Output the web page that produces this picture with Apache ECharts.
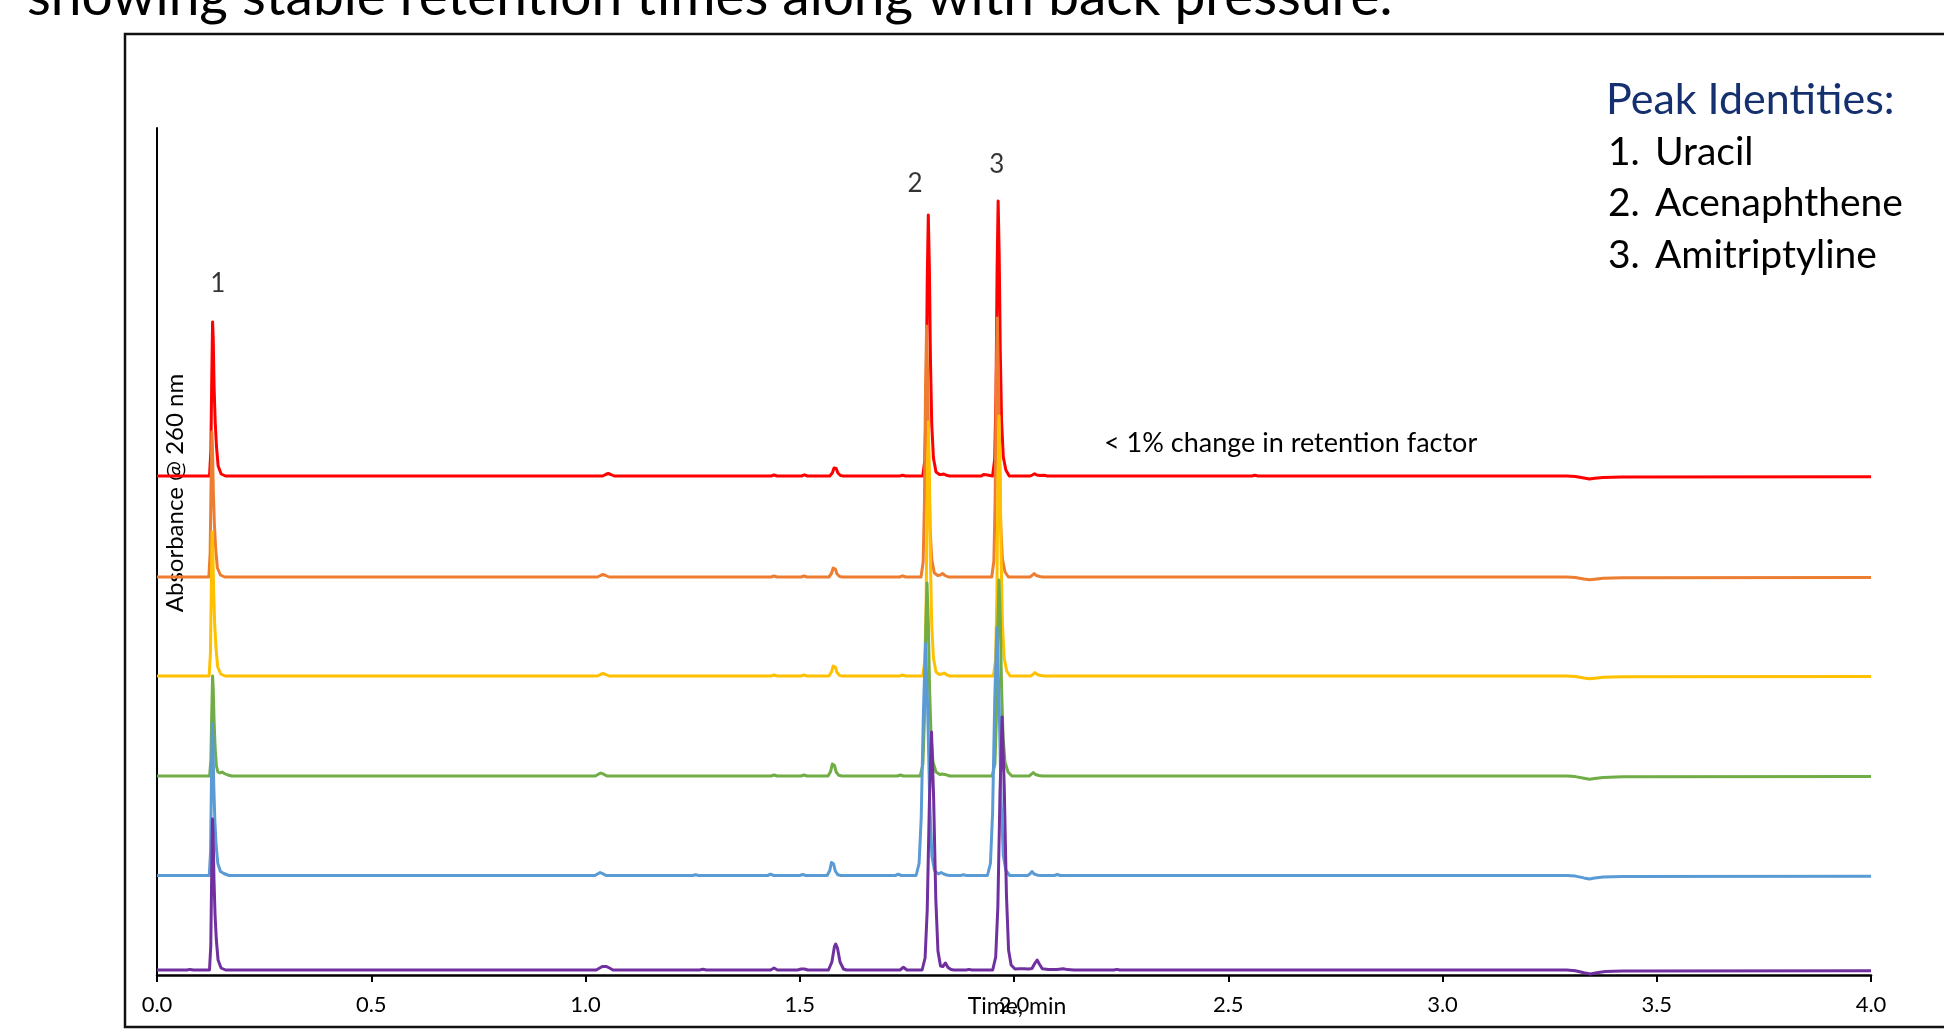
<!DOCTYPE html>
<html>
<head>
<meta charset="utf-8">
<title>Chromatogram overlay</title>
<script src="https://cdn.jsdelivr.net/npm/echarts@6/dist/echarts.min.js"></script>
<style>
  html, body { margin: 0; padding: 0; background: #ffffff; }
  #chartDiv { width: 1944px; height: 1036px; }
</style>
</head>
<body>
<div id="chartDiv"></div>
<script>
// x axis tick labels (time, min)
const xTickLabels = ['0.0', '0.5', '1.0', '1.5', '2.0', '2.5', '3.0', '3.5', '4.0'];

// trace names / colours, top to bottom
const traceNames = ['Run 1', 'Run 2', 'Run 3', 'Run 4', 'Run 5', 'Run 6'];
const traceColors = ['#ff0000', '#ed7d31', '#ffc000', '#70ad47', '#5b9bd5', '#7030a0'];
// vertical offset of each trace's baseline (absorbance units)
const traceOffsets = [499, 398, 299, 199, 99.5, 5];

// [time, absorbance above baseline]
const redTrace = [
  [0, 0], [0.1225, 0], [0.1257, 25], [0.1277, 95], [0.1297, 154], [0.1312, 138], [0.1332, 90], [0.1357, 55], [0.1387, 30], [0.1427, 10], [0.1497, 2], [0.16, 0],
  [1.040, 0], [1.047, 1.5], [1.053, 2.5], [1.059, 1.5], [1.067, 0],
  [1.433, 0], [1.440, 1], [1.447, 0],
  [1.504, 0], [1.511, 1.2], [1.518, 0],
  [1.570, 0], [1.576, 3], [1.580, 8], [1.582, 9], [1.585, 7.5], [1.589, 3], [1.595, 0.5], [1.602, 0],
  [1.733, 0], [1.740, 0.8], [1.747, 0],
  [1.787, 0], [1.792, 16], [1.795, 78], [1.7975, 196], [1.800, 261], [1.8025, 209], [1.805, 117], [1.808, 52], [1.812, 18], [1.818, 4], [1.826, 1.5], [1.831, 1.5], [1.836, 2], [1.842, 0.8], [1.850, 0],
  [1.924, 0], [1.929, 1.5], [1.933, 1.8], [1.938, 1], [1.944, 0.5],
  [1.950, 0], [1.955, 17], [1.958, 83], [1.9605, 206], [1.963, 275], [1.9655, 220], [1.968, 124], [1.971, 55], [1.975, 19], [1.981, 6], [1.989, 0],
  [2.038, 0], [2.043, 1], [2.048, 2.2], [2.053, 1], [2.060, 0.5], [2.070, 0.8], [2.078, 0],
  [2.555, 0], [2.562, 0.8], [2.569, 0],
  [3.290, 0], [3.310, -0.5], [3.330, -2], [3.343, -3], [3.355, -2.2], [3.375, -1.4], [3.420, -1], [4.0, -0.8]
];
const orangeTrace = [
  [0, 0], [0.121, 0], [0.124, 24], [0.126, 89], [0.128, 145], [0.1295, 130], [0.1315, 85], [0.134, 52], [0.137, 28], [0.141, 9], [0.148, 2], [0.158, 0],
  [1.028, 0], [1.035, 1.5], [1.041, 2.5], [1.047, 1.5], [1.055, 0],
  [1.433, 0], [1.440, 1], [1.447, 0],
  [1.503, 0], [1.510, 1], [1.517, 0],
  [1.568, 0], [1.574, 3.5], [1.578, 9], [1.580, 10], [1.583, 8], [1.587, 3], [1.593, 0.5], [1.600, 0],
  [1.733, 0], [1.740, 1.2], [1.747, 0],
  [1.783, 0], [1.788, 15], [1.791, 75], [1.7935, 188], [1.796, 251], [1.7985, 201], [1.801, 113], [1.804, 50], [1.808, 18], [1.814, 4], [1.822, 1.5], [1.828, 2], [1.833, 3.5], [1.839, 1.5], [1.847, 0],
  [1.948, 0], [1.953, 16], [1.956, 78], [1.9585, 194], [1.961, 259], [1.9635, 207], [1.966, 117], [1.969, 52], [1.973, 18], [1.979, 5], [1.987, 0],
  [2.037, 0], [2.042, 1.5], [2.047, 3.5], [2.052, 1.5], [2.060, 0.5], [2.068, 0],
  [3.290, 0], [3.310, -0.5], [3.330, -2], [3.343, -2.8], [3.355, -2.2], [3.375, -1.3], [3.420, -0.8], [4.0, -0.6]
];
const yellowTrace = [
  [0, 0], [0.1217, 0], [0.1247, 23], [0.1267, 88], [0.1287, 144], [0.1302, 129], [0.1322, 84], [0.1347, 51], [0.1377, 28], [0.1417, 9], [0.1487, 2], [0.1587, 0],
  [1.028, 0], [1.035, 1.5], [1.041, 2.5], [1.047, 1.5], [1.055, 0],
  [1.433, 0], [1.440, 1], [1.447, 0],
  [1.503, 0], [1.510, 1], [1.517, 0],
  [1.568, 0], [1.574, 4], [1.578, 10], [1.580, 11], [1.583, 9], [1.587, 3.5], [1.593, 0.5], [1.600, 0],
  [1.733, 0], [1.740, 1], [1.747, 0],
  [1.787, 0], [1.792, 15], [1.795, 76], [1.7975, 191], [1.800, 254], [1.8025, 203], [1.805, 114], [1.808, 51], [1.812, 18], [1.818, 4], [1.826, 1.5], [1.832, 2], [1.837, 3], [1.843, 1.2], [1.850, 0],
  [1.952, 0], [1.957, 16], [1.960, 78], [1.9625, 195], [1.965, 260], [1.9675, 208], [1.970, 117], [1.973, 52], [1.977, 18], [1.983, 5], [1.991, 0],
  [2.039, 0], [2.044, 1.5], [2.049, 3.5], [2.054, 1.5], [2.062, 0.5], [2.070, 0],
  [3.290, 0], [3.310, -0.5], [3.330, -2], [3.343, -2.8], [3.355, -2.2], [3.375, -1.3], [3.420, -0.8], [4.0, -0.6]
];
const greenTrace = [
  [0, 0], [0.1227, 0], [0.1257, 16], [0.1277, 62], [0.1297, 100], [0.1312, 88], [0.1332, 55], [0.1357, 28], [0.1387, 10], [0.142, 4], [0.147, 3], [0.152, 4], [0.157, 2.5], [0.165, 1], [0.175, 0],
  [1.023, 0], [1.030, 1.8], [1.036, 3], [1.042, 1.8], [1.050, 0],
  [1.433, 0], [1.440, 1], [1.447, 0],
  [1.503, 0], [1.510, 1], [1.517, 0],
  [1.566, 0], [1.572, 4.5], [1.576, 12], [1.578, 13], [1.581, 10.5], [1.585, 4], [1.591, 0.7], [1.598, 0],
  [1.728, 0], [1.735, 1], [1.742, 0],
  [1.781, 0], [1.7875, 12], [1.791, 58], [1.794, 145], [1.797, 193], [1.800, 154], [1.803, 87], [1.8065, 39], [1.811, 14], [1.818, 4], [1.827, 1.5], [1.832, 2], [1.836, 3], [1.842, 1.2], [1.850, 0],
  [1.949, 0], [1.9555, 12], [1.959, 59], [1.962, 147], [1.965, 196], [1.968, 157], [1.971, 88], [1.9745, 39], [1.979, 14], [1.986, 4], [1.995, 0],
  [2.035, 0], [2.040, 1.5], [2.045, 3.5], [2.050, 1.5], [2.058, 0.5], [2.066, 0],
  [3.290, 0], [3.310, -0.6], [3.330, -2.2], [3.343, -3.2], [3.355, -2.4], [3.375, -1.4], [3.420, -0.8], [4.0, -0.6]
];
const blueTrace = [
  [0, 0], [0.122, 0], [0.125, 24], [0.127, 92], [0.129, 152], [0.1305, 136], [0.1325, 90], [0.135, 55], [0.138, 30], [0.142, 12], [0.148, 4], [0.156, 2], [0.168, 0],
  [1.022, 0], [1.029, 1.8], [1.034, 3], [1.040, 1.8], [1.048, 0],
  [1.250, 0], [1.257, 0.7], [1.264, 0],
  [1.425, 0], [1.432, 1.3], [1.439, 0],
  [1.500, 0], [1.507, 1], [1.514, 0],
  [1.564, 0], [1.570, 5], [1.574, 13], [1.576, 14.3], [1.579, 11.5], [1.583, 4.5], [1.589, 0.7], [1.596, 0],
  [1.723, 0], [1.730, 1.3], [1.737, 0],
  [1.7715, 0], [1.7785, 12], [1.7835, 58], [1.7885, 162], [1.7935, 232], [1.7985, 167], [1.8035, 70], [1.8085, 19], [1.8145, 5], [1.8235, 1.5], [1.830, 3], [1.836, 1.5], [1.843, 0.5], [1.850, 0],
  [1.875, 0], [1.882, 0.7], [1.889, 0],
  [1.938, 0], [1.945, 12], [1.950, 62], [1.955, 174], [1.960, 248], [1.965, 179], [1.970, 74], [1.975, 20], [1.981, 5], [1.990, 0],
  [2.032, 0], [2.037, 1.5], [2.042, 4], [2.047, 1.5], [2.055, 0.3], [2.063, 0],
  [2.094, 0], [2.101, 1], [2.108, 0],
  [3.290, 0], [3.310, -0.6], [3.330, -2.4], [3.343, -3.4], [3.355, -2.5], [3.375, -1.4], [3.420, -0.9], [4.0, -0.7]
];
const purpleTrace = [
  [0, 0], [0.070, 0], [0.077, 0.6], [0.085, 0],
  [0.1225, 0], [0.1255, 24], [0.1275, 92], [0.1295, 151], [0.131, 135], [0.133, 90], [0.1355, 55], [0.1385, 30], [0.1425, 10], [0.1495, 2], [0.16, 0],
  [1.025, 0], [1.033, 2], [1.040, 3.6], [1.048, 3.6], [1.056, 2], [1.064, 0],
  [1.266, 0], [1.274, 0.7], [1.282, 0],
  [1.432, 0], [1.440, 2], [1.448, 0],
  [1.495, 0], [1.503, 1], [1.511, 1], [1.519, 0],
  [1.567, 0], [1.575, 8], [1.581, 23.5], [1.584, 26], [1.588, 22], [1.594, 8], [1.602, 1], [1.609, 0],
  [1.734, 0], [1.742, 2.7], [1.750, 0],
  [1.7855, 0], [1.7925, 12], [1.7975, 60], [1.8025, 167], [1.8075, 238], [1.8125, 171], [1.8175, 71], [1.8225, 19], [1.8285, 4], [1.834, 3.5], [1.840, 7], [1.846, 2.5], [1.853, 0.5], [1.860, 0],
  [1.888, 0], [1.895, 0.6], [1.902, 0],
  [1.9503, 0], [1.9573, 13], [1.9623, 63], [1.9673, 177], [1.9723, 253], [1.9773, 182], [1.9823, 76], [1.9873, 20], [1.9933, 5], [2.0023, 1], [2.012, 1.2], [2.023, 1.3], [2.034, 1], [2.042, 1.5], [2.049, 7], [2.054, 10], [2.059, 6], [2.066, 1.2], [2.080, 0.5], [2.100, 0.6], [2.115, 1.3], [2.125, 0.4], [2.140, 0],
  [2.233, 0], [2.240, 0.6], [2.247, 0],
  [3.290, 0], [3.310, -0.7], [3.330, -2.8], [3.345, -4], [3.360, -2.8], [3.380, -1.6], [3.420, -1], [4.0, -0.8]
];
const traces = [redTrace, orangeTrace, yellowTrace, greenTrace, blueTrace, purpleTrace];

// peak number labels: text, time, absorbance
const peakLabels = ['1', '2', '3'];
const peakLabelTime = [0.142, 1.769, 1.960];
const peakLabelValue = [691, 791, 810];

// peak identity list
const legendTitle = 'Peak Identities:';
const legendNums = ['1.', '2.', '3.'];
const legendNames = ['Uracil', 'Acenaphthene', 'Amitriptyline'];

const FONT = 'Lato, "Open Sans", sans-serif';

let chart = echarts.init(document.getElementById('chartDiv'));

let series = traces.map((tr, i) => ({
  name: traceNames[i],
  type: 'line',
  symbol: 'none',
  smooth: false,
  silent: true,
  lineStyle: { color: traceColors[i], width: 3, join: 'round' },
  data: tr.map(p => [p[0], p[1] + traceOffsets[i]])
}));

// peak numbers placed on the data scale
series.push({
  type: 'scatter',
  symbolSize: 1,
  silent: true,
  itemStyle: { color: 'transparent' },
  label: {
    show: true,
    position: 'inside',
    color: '#000',
    fontFamily: FONT,
    fontSize: 26,
    formatter: p => peakLabels[p.dataIndex]
  },
  data: peakLabels.map((l, i) => [peakLabelTime[i], peakLabelValue[i]])
});

let graphic = [
  // frame round the plot
  { type: 'rect', shape: { x: 125, y: 34, width: 1900, height: 993 },
    style: { fill: 'none', stroke: '#111', lineWidth: 2.5 }, silent: true },
  // slide text cut off at the top
  { type: 'text', x: 27, y: -3,
    style: { text: 'showing stable retention times along with back pressure.', font: '55px ' + FONT, fill: '#000', verticalAlign: 'middle' } },
  { type: 'text', x: 175, y: 493, rotation: Math.PI / 2,
    style: { text: 'Absorbance @ 260 nm', font: '24px ' + FONT, fill: '#000', align: 'center', verticalAlign: 'middle' } },
  { type: 'text', x: 1017, y: 1007,
    style: { text: 'Time, min', font: '23px ' + FONT, fill: '#000', align: 'center', verticalAlign: 'middle' } },
  { type: 'text', x: 1104, y: 443,
    style: { text: '< 1% change in retention factor', font: '27px ' + FONT, fill: '#000', verticalAlign: 'middle' } },
  { type: 'text', x: 1606, y: 100,
    style: { text: legendTitle, font: '43px ' + FONT, fill: '#14306e', verticalAlign: 'middle' } }
];
legendNames.forEach((n, i) => {
  graphic.push({ type: 'text', x: 1608, y: 152 + i * 51.5,
    style: { text: legendNums[i], font: '39px ' + FONT, fill: '#000', verticalAlign: 'middle' } });
  graphic.push({ type: 'text', x: 1655, y: 152 + i * 51.5,
    style: { text: n, font: '39px ' + FONT, fill: '#000', verticalAlign: 'middle' } });
});

let option = {
  backgroundColor: '#ffffff',
  animation: false,
  grid: { left: 157, right: 73, top: 128, bottom: 61, containLabel: false },
  xAxis: {
    type: 'value',
    min: 0,
    max: 4,
    interval: 0.5,
    axisLine: { onZero: false, lineStyle: { color: '#000', width: 2.5 } },
    axisTick: { show: true, length: 7, lineStyle: { color: '#000', width: 2 } },
    axisLabel: {
      color: '#000',
      fontFamily: FONT,
      fontSize: 22,
      margin: 19,
      formatter: v => xTickLabels[Math.round(v / 0.5)]
    },
    splitLine: { show: false }
  },
  yAxis: {
    type: 'value',
    min: 0,
    max: 847,
    axisLine: { show: true, lineStyle: { color: '#000', width: 2 } },
    axisTick: { show: false },
    axisLabel: { show: false },
    splitLine: { show: false }
  },
  graphic: graphic,
  series: series
};
chart.setOption(option);
</script>
</body>
</html>
